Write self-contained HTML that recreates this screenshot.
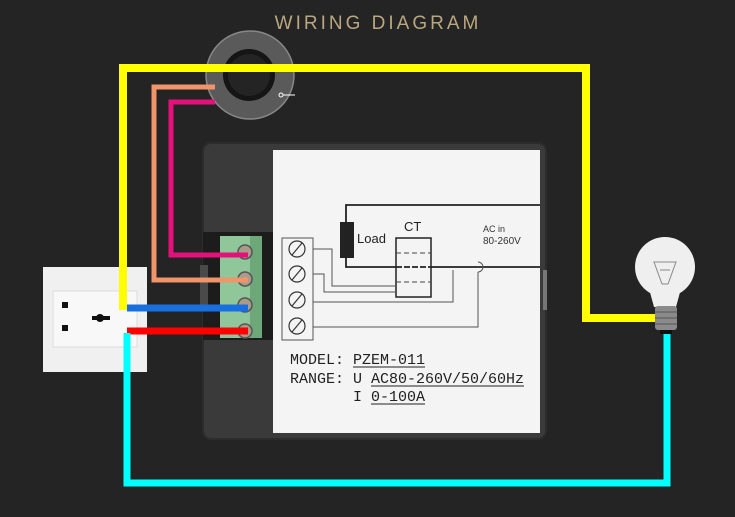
<!DOCTYPE html>
<html><head><meta charset="utf-8"><style>
html,body{margin:0;padding:0;background:#242424;}
svg{display:block}
</style></head><body>
<svg width="735" height="517" viewBox="0 0 735 517" xmlns="http://www.w3.org/2000/svg">
<rect width="735" height="517" fill="#242424"/>
<text x="378" y="29" text-anchor="middle" font-family="Liberation Sans, sans-serif" font-size="19" letter-spacing="3" fill="#b9a77f">WIRING DIAGRAM</text>

<!-- meter body -->
<rect x="203" y="143" width="343" height="296" rx="8" fill="#3a3a3a"/>
<rect x="203" y="143" width="343" height="296" rx="8" fill="none" stroke="#2c2c2c" stroke-width="2"/>
<rect x="203" y="232" width="70" height="108" fill="#1c1c1c"/>
<rect x="273" y="150" width="267" height="283" fill="#f4f4f4"/>
<rect x="543" y="270" width="4" height="40" fill="#777"/>
<!-- terminal block -->
<rect x="220" y="236" width="42" height="102" fill="#8fc79a"/>
<rect x="250" y="236" width="12" height="102" fill="#6ea77a"/>
<g fill="#a99c8a" stroke="#555" stroke-width="1.5">
<circle cx="245" cy="252" r="7"/><circle cx="245" cy="279" r="7"/><circle cx="245" cy="305" r="7"/><circle cx="245" cy="331" r="7"/>
</g>
<rect x="200" y="265" width="8" height="40" fill="#4a4a4a"/>

<!-- schematic -->
<g stroke="#222" fill="none" stroke-width="1.8">
<polyline points="540,205 346,205 346,267 540,267"/>
</g>
<rect x="340" y="222" width="14" height="36" fill="#222"/>
<text x="357" y="243" font-family="Liberation Sans, sans-serif" font-size="13" fill="#222">Load</text>
<text x="404" y="231" font-family="Liberation Sans, sans-serif" font-size="13" fill="#222">CT</text>
<rect x="396" y="238" width="35" height="59" fill="#f4f4f4" stroke="#222" stroke-width="1.5"/>
<g stroke="#444" stroke-width="1" stroke-dasharray="5,3"><line x1="396" y1="253" x2="431" y2="253"/><line x1="396" y1="282" x2="431" y2="282"/></g>
<line x1="396" y1="267" x2="431" y2="267" stroke="#222" stroke-width="1.8" stroke-dasharray="6,2"/>
<text x="483" y="232" font-family="Liberation Sans, sans-serif" font-size="9" fill="#333">AC in</text>
<text x="483" y="244" font-family="Liberation Sans, sans-serif" font-size="10" fill="#333">80-260V</text>
<g stroke="#555" stroke-width="1" fill="none">
<polyline points="313,249 332,249 332,286 396,286"/>
<polyline points="313,274 324,274 324,292 396,292"/>
<polyline points="313,302 453,302 453,270"/>
<polyline points="313,327 478,327 478,272 M478,262 478,205"/>
<path d="M478,262 a5,5 0 0 1 0,10"/>
</g>
<rect x="282" y="238" width="31" height="102" fill="none" stroke="#555" stroke-width="1"/>
<g stroke="#333" stroke-width="1.2" fill="none">
<circle cx="297" cy="249" r="8"/><line x1="292" y1="255" x2="302" y2="243"/>
<circle cx="297" cy="274" r="8"/><line x1="292" y1="280" x2="302" y2="268"/>
<circle cx="297" cy="300" r="8"/><line x1="292" y1="306" x2="302" y2="294"/>
<circle cx="297" cy="326" r="8"/><line x1="292" y1="332" x2="302" y2="320"/>
</g>
<g font-family="Liberation Mono, monospace" font-size="15" fill="#222">
<text x="290" y="364">MODEL: PZEM-011</text>
<text x="290" y="383">RANGE: U AC80-260V/50/60Hz</text>
<text x="353" y="401">I 0-100A</text>
</g>
<g stroke="#222" stroke-width="1"><line x1="353" y1="367" x2="425" y2="367"/><line x1="371" y1="386" x2="524" y2="386"/><line x1="371" y1="404" x2="425" y2="404"/></g>

<!-- socket -->
<rect x="43" y="267" width="104" height="105" fill="#f0f0f0"/>
<rect x="53" y="291" width="84" height="56" fill="#f8f8f8" stroke="#ddd"/>
<rect x="62" y="302" width="6" height="6" fill="#111"/><rect x="62" y="325" width="6" height="6" fill="#111"/>
<circle cx="100" cy="318" r="4" fill="#111"/><rect x="92" y="316" width="18" height="4" fill="#111"/>

<!-- CT ring -->
<circle cx="250" cy="75" r="44" fill="#5a5a5a" stroke="#888" stroke-width="1.5"/>
<circle cx="249" cy="75" r="26" fill="#151515"/>
<circle cx="249" cy="75" r="21" fill="#242424"/>
<circle cx="281" cy="95" r="2" fill="none" stroke="#fff" stroke-width="1"/>
<line x1="283" y1="95" x2="295" y2="95" stroke="#fff" stroke-width="1"/>

<!-- wires -->
<g fill="none" stroke-linejoin="miter" stroke-linecap="butt">
<polyline points="215,87 154,87 154,280 248,280" stroke="#f0956a" stroke-width="5"/>
<polyline points="215,102 171,102 171,255 248,255" stroke="#e5117a" stroke-width="5"/>
<polyline points="123,310 123,68 586,68 586,318 656,318" stroke="#ffff00" stroke-width="8"/>
<line x1="127" y1="308" x2="248" y2="308" stroke="#1a6fe0" stroke-width="7"/>
<line x1="127" y1="331" x2="248" y2="331" stroke="#ff0000" stroke-width="7"/>
<polyline points="127,333 127,483 667,483 667,334" stroke="#00ffff" stroke-width="7"/>
</g>

<!-- bulb -->
<circle cx="665" cy="267" r="30" fill="#efefef"/>
<path d="M648,285 L682,285 L676,307 L654,307 Z" fill="#efefef"/>
<path d="M654,262 L676,262 L668,284 L662,284 Z M660,270 L670,270" fill="none" stroke="#888" stroke-width="1"/>
<rect x="655" y="306" width="22" height="24" rx="3" fill="#8a8a8a"/>
<g stroke="#555" stroke-width="1"><line x1="655" y1="312" x2="677" y2="312"/><line x1="655" y1="318" x2="677" y2="318"/><line x1="655" y1="324" x2="677" y2="324"/></g>
<rect x="660" y="330" width="12" height="4" fill="#111"/>
</svg>
</body></html>
